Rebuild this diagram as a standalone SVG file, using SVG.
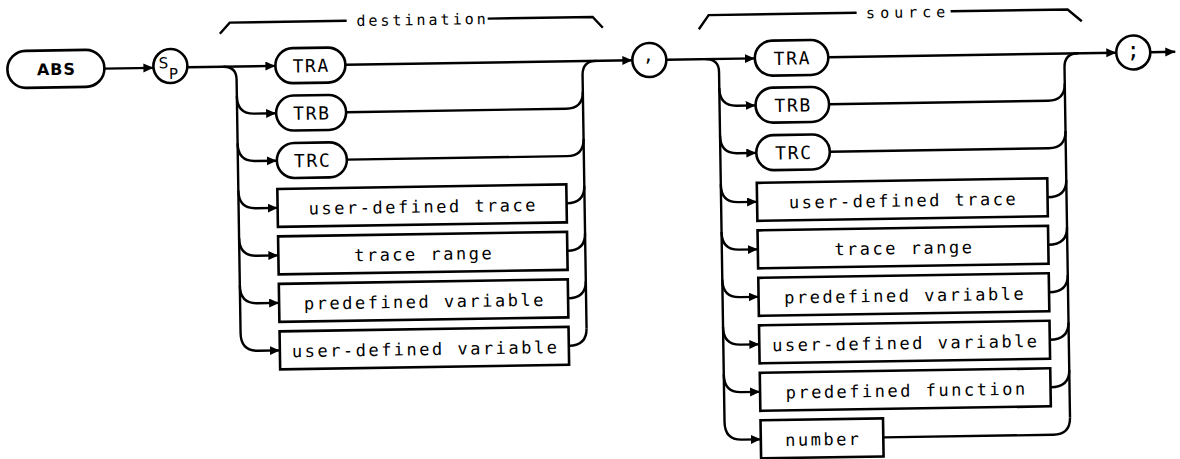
<svg xmlns="http://www.w3.org/2000/svg" width="1180" height="459" viewBox="0 0 1180 459">
<defs>
<marker id="ah" markerWidth="11" markerHeight="10" refX="10" refY="4.5" orient="auto" markerUnits="userSpaceOnUse"><path d="M0,0 L10,4.5 L0,9 Z" fill="#000"/></marker>
</defs>
<style>
.ln{fill:none;stroke:#000;stroke-width:2.4;}
.ar{marker-end:url(#ah);}
.bx{fill:#fff;stroke:#000;stroke-width:2.6;}
.lb{font-family:"DejaVu Sans Mono",monospace;font-size:17px;letter-spacing:2.5px;text-anchor:middle;fill:#000;}
.tr{font-family:"DejaVu Sans Mono",monospace;font-size:18px;letter-spacing:1.6px;text-anchor:middle;fill:#000;}
.hd{font-family:"DejaVu Sans Mono",monospace;font-size:15px;letter-spacing:3px;text-anchor:middle;fill:#000;}
.sy{font-family:"DejaVu Sans Mono",monospace;text-anchor:middle;fill:#000;}
</style>
<rect width="1180" height="459" fill="#fff"/>
<g transform="rotate(-0.9 590 230)">
<g id="brackets" class="ln" stroke-width="2.2">
<path d="M223,28 L233,17 H350"/>
<path d="M491,17 H596 L606,28"/>
<path d="M702,31 L712,17 H860"/>
<path d="M954,17 H1071 L1085,29"/>
</g>
<text class="hd" x="425.8" y="22.4">destination</text>
<text class="hd" x="911.5" y="22.6" style="letter-spacing:5px">source</text>

<g id="connectors" class="ln">
<path class="ar" d="M107,61 H156"/>
<path class="ar" d="M190,61 H278"/>
<path class="ar" d="M226,61 Q239,61 239,74 V327.5 C239,339.5 245,345.5 256,345.5 H278"/>
<path class="ar" d="M239,90.4 C239,102.4 245,108.4 256,108.4 H278"/>
<path class="ar" d="M239,137.8 C239,149.8 245,155.8 256,155.8 H278"/>
<path class="ar" d="M239,185 C239,197 245,203 256,203 H278"/>
<path class="ar" d="M239,232.5 C239,244.5 245,250.5 256,250.5 H278"/>
<path class="ar" d="M239,280 C239,292 245,298 256,298 H278"/>
<path class="ar" d="M348,61 H635"/>
<path d="M585,328.5 V75 Q585,61 599,61"/>
<path d="M348,108.4 H568 Q585,108.4 585,91.4"/>
<path d="M348,155.8 H568 Q585,155.8 585,138.8"/>
<path d="M567,203 Q585,203 585,186"/>
<path d="M567,250.5 Q585,250.5 585,233.5"/>
<path d="M567,298 Q585,298 585,281"/>
<path d="M567,345.5 Q585,345.5 585,328.5"/>

<path class="ar" d="M669,61 H757.5"/>
<path class="ar" d="M708,61 Q721.5,61 721.5,74 V424 C721.5,436 727.5,442 738.5,442 H757.5"/>
<path class="ar" d="M721.5,90 C721.5,102 727.5,108 738.5,108 H757.5"/>
<path class="ar" d="M721.5,137.5 C721.5,149.5 727.5,155.5 738.5,155.5 H757.5"/>
<path class="ar" d="M721.5,186.5 C721.5,198.5 727.5,204.5 738.5,204.5 H757.5"/>
<path class="ar" d="M721.5,234 C721.5,246 727.5,252 738.5,252 H757.5"/>
<path class="ar" d="M721.5,281.5 C721.5,293.5 727.5,299.5 738.5,299.5 H757.5"/>
<path class="ar" d="M721.5,329 C721.5,341 727.5,347 738.5,347 H757.5"/>
<path class="ar" d="M721.5,376.5 C721.5,388.5 727.5,394.5 738.5,394.5 H757.5"/>
<path class="ar" d="M831,61 H1119"/>
<path d="M1067,425 V75 Q1067,61 1081,61"/>
<path d="M831,108 H1050 Q1067,108 1067,91"/>
<path d="M831,155.5 H1050 Q1067,155.5 1067,138.5"/>
<path d="M1048,204.5 Q1067,204.5 1067,187.5"/>
<path d="M1048,252 Q1067,252 1067,235"/>
<path d="M1048,299.5 Q1067,299.5 1067,282.5"/>
<path d="M1048,347 Q1067,347 1067,330"/>
<path d="M1048,394.5 Q1067,394.5 1067,377.5"/>
<path d="M880,442 H1050 Q1067,442 1067,425"/>
<path class="ar" d="M1153,61 H1178"/>
</g>

<g id="abs">
<rect class="bx" x="10" y="42" width="97" height="37" rx="18.5"/>
<text x="59" y="66.5" text-anchor="middle" style="font-family:'DejaVu Sans',sans-serif;font-weight:bold;font-size:16px;letter-spacing:1px">ABS</text>
</g>
<g id="sp">
<circle class="bx" cx="173" cy="59.5" r="17"/>
<text x="166" y="61.5" text-anchor="middle" style="font-family:'DejaVu Sans',sans-serif;font-size:15px">S</text>
<text x="176" y="72.5" text-anchor="middle" style="font-family:'DejaVu Sans',sans-serif;font-size:15px">P</text>
</g>

<g id="dst-tra"><rect class="bx" x="278" y="43.5" width="70" height="35" rx="17.5"/><text class="tr" x="313.8" y="67.8">TRA</text></g>
<g id="dst-trb"><rect class="bx" x="278" y="90.9" width="70" height="35" rx="17.5"/><text class="tr" x="313.8" y="115.2">TRB</text></g>
<g id="dst-trc"><rect class="bx" x="278" y="138.3" width="70" height="35" rx="17.5"/><text class="tr" x="313.8" y="162.6">TRC</text></g>
<g id="dst-udtrace"><rect class="bx" x="278" y="184" width="289" height="38"/><text class="lb" x="423.75" y="210">user-defined trace</text></g>
<g id="dst-range"><rect class="bx" x="278" y="231.5" width="289" height="38"/><text class="lb" x="423.75" y="257.5">trace range</text></g>
<g id="dst-predvar"><rect class="bx" x="278" y="279" width="289" height="38"/><text class="lb" x="423.75" y="305">predefined variable</text></g>
<g id="dst-udvar"><rect class="bx" x="278" y="326.5" width="289" height="38"/><text class="lb" x="423.75" y="352.5">user-defined variable</text></g>

<g id="comma">
<circle class="bx" cx="652" cy="61" r="17"/>
<text class="sy" x="651" y="62" font-size="18">,</text>
</g>

<g id="src-tra"><rect class="bx" x="757.5" y="43.5" width="73.5" height="35" rx="17.5"/><text class="tr" x="795" y="67.8">TRA</text></g>
<g id="src-trb"><rect class="bx" x="757.5" y="90.5" width="73.5" height="35" rx="17.5"/><text class="tr" x="795" y="114.8">TRB</text></g>
<g id="src-trc"><rect class="bx" x="757.5" y="138" width="73.5" height="35" rx="17.5"/><text class="tr" x="795" y="162.3">TRC</text></g>
<g id="src-udtrace"><rect class="bx" x="757.5" y="185.5" width="290.5" height="38"/><text class="lb" x="904" y="211.5">user-defined trace</text></g>
<g id="src-range"><rect class="bx" x="757.5" y="233" width="290.5" height="38"/><text class="lb" x="904" y="259">trace range</text></g>
<g id="src-predvar"><rect class="bx" x="757.5" y="280.5" width="290.5" height="38"/><text class="lb" x="904" y="306.5">predefined variable</text></g>
<g id="src-udvar"><rect class="bx" x="757.5" y="328" width="290.5" height="38"/><text class="lb" x="904" y="354">user-defined variable</text></g>
<g id="src-predfn"><rect class="bx" x="757.5" y="375.5" width="290.5" height="38"/><text class="lb" x="904" y="401.5">predefined function</text></g>
<g id="src-number"><rect class="bx" x="757.5" y="423" width="122.5" height="38"/><text class="lb" x="820" y="449">number</text></g>

<g id="semicolon">
<circle class="bx" cx="1136" cy="61" r="17"/>
<text class="sy" x="1136" y="66" font-size="22">;</text>
</g>
</g>
</svg>
